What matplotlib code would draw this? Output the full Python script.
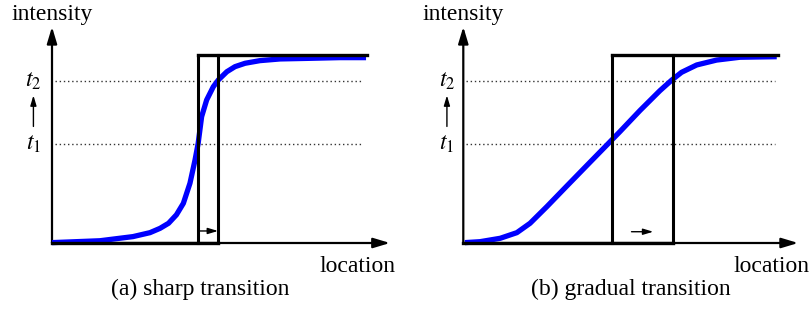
import matplotlib
matplotlib.use('Agg')
import matplotlib.pyplot as plt

matplotlib.rcParams['font.family'] = 'Liberation Serif'
matplotlib.rcParams['mathtext.fontset'] = 'stix'

# curve samples (location 0..100, intensity 0..100)
sharp_x = [0, 15.2, 25.7, 31.1, 34.3, 37.0, 39.5, 41.7, 43.8, 45.4, 46.4, 47.5, 49.1, 51.2,
           52.8, 55.5, 58.1, 61.3, 66.0, 72.4, 80.9, 91.4, 99.7]
sharp_y = [0.2, 1.2, 3.4, 5.5, 7.8, 10.5, 15.0, 21.1, 31.8, 44.1, 53.0, 67.2, 76.1, 83.1,
           86.7, 91.1, 93.8, 95.6, 97.0, 97.9, 98.2, 98.6, 98.6]
gradual_x = [0.5, 5.3, 11.7, 17.0, 21.2, 26.5, 32.8, 39.2, 45.5, 49.7, 56.1, 62.4, 66.2,
             69.3, 74.1, 80.4, 87.8, 99.5]
gradual_y = [0.2, 0.7, 2.5, 5.5, 10.5, 19.3, 30.2, 41.2, 52.0, 59.2, 70.5, 81.0, 86.7,
             90.8, 94.7, 97.3, 98.8, 99.1]

t1, t2 = 52.7, 86.2
top_level = 100

# window edges for each panel
sharp_box = (46.3, 52.7)
gradual_box = (47.1, 66.7)
sharp_move = (46.3, 52.7, 6.4)
gradual_move = (53.4, 60.3, 6.0)

captions = ['(a) sharp transition', '(b) gradual transition']

fig = plt.figure(figsize=(8.11, 3.17), dpi=100)

big_head = '-|>,head_length=1.0,head_width=0.3'
small_head = '-|>,head_length=0.6,head_width=0.18'


def panel(left_px, right_px, axis_px, xs, ys, box, move, caption, xtip, lab_x, loc_x, cap_x):
    W, H = 811.0, 317.0
    ax = fig.add_axes([left_px / W, 0, (right_px - left_px) / W, 1])
    ax.set_xlim((left_px - axis_px) / 3.15, (right_px - axis_px) / 3.15)
    ax.set_ylim((243 - H) / 1.88, 243 / 1.88)
    ax.axis('off')

    # axes with arrows
    ax.annotate('', xy=(0, 115), xytext=(0, 0),
                arrowprops=dict(arrowstyle=big_head, color='black', lw=1.6, shrinkA=0, shrinkB=0))
    ax.annotate('', xy=(xtip, 0), xytext=(0, 0),
                arrowprops=dict(arrowstyle=big_head, color='black', lw=1.6, shrinkA=0, shrinkB=0))

    # thresholds
    ax.plot([1, 98.8], [t1, t1], color='#333333', lw=1.0, ls=(0, (1, 2)))
    ax.plot([1, 98.8], [t2, t2], color='#333333', lw=1.0, ls=(0, (1, 2)))

    # curve
    ax.plot(xs, ys, color='#0000ff', lw=3.8, solid_capstyle='butt', solid_joinstyle='round', zorder=3)

    # window
    a, b = box
    ax.plot([0, b], [0, 0], color='black', lw=2.4, zorder=4)
    ax.plot([a, a], [0, top_level], color='black', lw=2.2, zorder=4)
    ax.plot([b, b], [0, top_level], color='black', lw=2.2, zorder=4)
    ax.plot([a, top_level], [top_level, top_level], color='black', lw=2.4, zorder=4)

    m0, m1, my = move
    ax.annotate('', xy=(m1, my), xytext=(m0, my),
                arrowprops=dict(arrowstyle=small_head, color='black', lw=1.0, shrinkA=0, shrinkB=0))

    # labels
    ax.text(lab_x, t2, '$t_2$', ha='center', va='center', fontsize=17)
    ax.text(lab_x, t1, '$t_1$', ha='center', va='center', fontsize=17)
    ax.annotate('', xy=(lab_x, 78.5), xytext=(lab_x, 62),
                arrowprops=dict(arrowstyle=small_head, color='black', lw=1.0, shrinkA=0, shrinkB=0))
    ax.text(0, 118.6, 'intensity', ha='center', va='baseline', fontsize=17)
    ax.text(loc_x, -15.4, 'location', ha='center', va='baseline', fontsize=17)
    ax.text(cap_x, -27.7, caption, ha='center', va='baseline', fontsize=17)


panel(0, 405, 52, sharp_x, sharp_y, sharp_box, sharp_move, captions[0], 107.3, -5.9, 97.1, 47)
panel(408, 811, 463.3, gradual_x, gradual_y, gradual_box, gradual_move, captions[1], 106.3, -5.2, 97.8, 53.1)

fig.savefig('out.png', dpi=100)
